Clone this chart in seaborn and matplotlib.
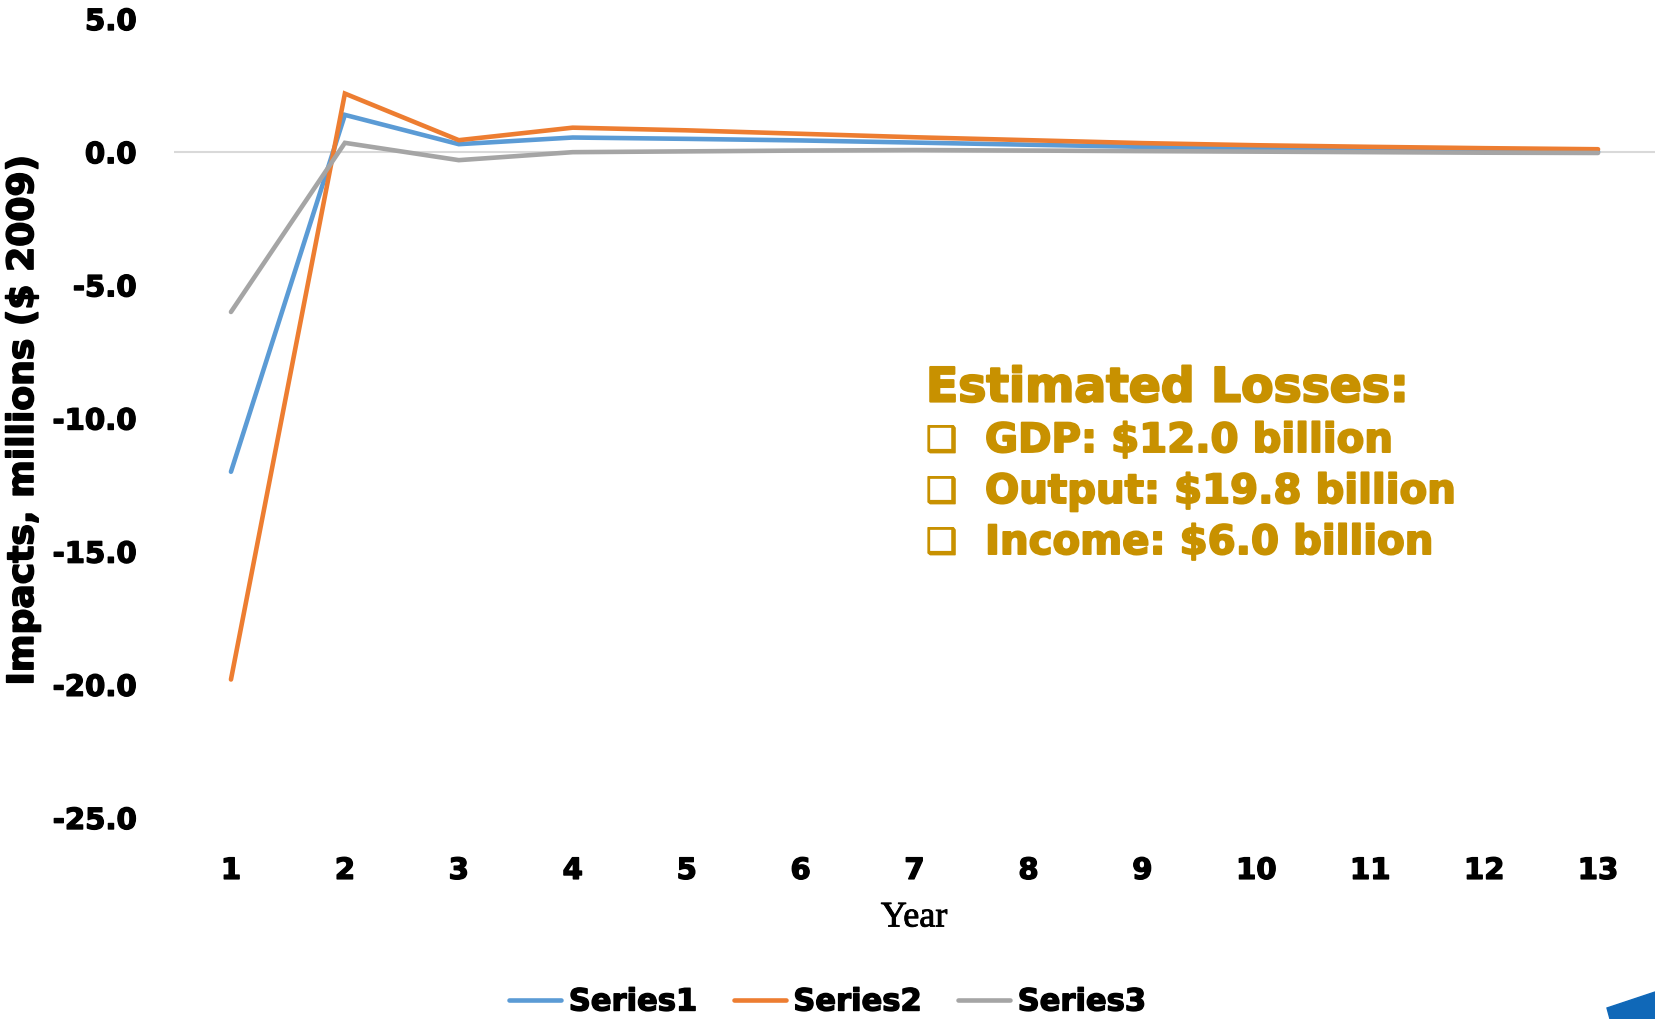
import numpy as np
import pandas as pd
import matplotlib
matplotlib.use("Agg")
import matplotlib.pyplot as plt
import matplotlib.patheffects as pe
import seaborn as sns
from matplotlib.patches import Polygon

years = list(range(1, 14))
series1 = [-12.0, 1.4, 0.3, 0.55, 0.5, 0.44, 0.36, 0.28, 0.2, 0.14, 0.09, 0.05, 0.02]
series2 = [-19.8, 2.2, 0.45, 0.92, 0.82, 0.69, 0.56, 0.45, 0.34, 0.26, 0.2, 0.15, 0.11]
series3 = [-6.0, 0.35, -0.3, 0.0, 0.03, 0.06, 0.08, 0.06, 0.04, 0.02, 0.0, -0.02, -0.03]
series_names = ["Series1", "Series2", "Series3"]
colors = ["#5B9BD5", "#ED7D31", "#A5A5A5"]
yticks = [5.0, 0.0, -5.0, -10.0, -15.0, -20.0, -25.0]
box_title = "Estimated Losses:"
box_items = ["GDP: $12.0 billion", "Output: $19.8 billion", "Income: $6.0 billion"]

df = pd.DataFrame({
    "Year": years * 3,
    "Value": series1 + series2 + series3,
    "Series": [s for s in series_names for _ in years],
})

sns.set_theme(style="white")
plt.rcParams["font.family"] = ["DejaVu Sans"]
plt.rcParams["text.color"] = "black"


def heavy(color, w=1.2):
    return [pe.withStroke(linewidth=w, foreground=color)]


fig = plt.figure(figsize=(16.55, 10.19), dpi=100)
ax = fig.add_axes([174/1655, 1-818/1019, 1-174/1655, (818-19)/1019])

ax.axhline(0, color="#D9D9D9", lw=1.5, zorder=1)
sns.lineplot(data=df, x="Year", y="Value", hue="Series", palette=colors,
             linewidth=3.3, ax=ax, legend=False, zorder=3,
             solid_capstyle="round", solid_joinstyle="miter")

ax.set_xlim(0.5, 13.5)
ax.set_ylim(-25, 5)
ax.set_xticks(years)
ax.set_xticklabels([str(y) for y in years])
ax.set_yticks(yticks)
ax.set_yticklabels([f"{v:.1f}" for v in yticks])
for s in ax.spines.values():
    s.set_visible(False)
ax.grid(False)
ax.tick_params(axis="x", length=0, pad=28, labelsize=21)
ax.tick_params(axis="y", length=0, pad=27, labelsize=21)
for lab in ax.get_xticklabels() + ax.get_yticklabels():
    lab.set_fontweight("bold")
    lab.set_color("black")
    lab.set_path_effects(heavy("black", 1.0))
ax.set_xlabel("")
ax.set_ylabel("")

fig.text(23/1655, 1-420/1019, "Impacts, millions ($ 2009)", rotation=90,
         ha="center", va="center", fontsize=26, fontweight="bold", color="black",
         path_effects=heavy("black", 1.2))
fig.text(914/1655, 1-918/1019, "Year", ha="center", va="center",
         fontsize=26, family="Liberation Serif", color="black",
         path_effects=heavy("black", 0.6))

gold = "#C89100"
fig.text(926/1655, 1-389/1019, box_title, ha="left", va="center",
         fontsize=34, fontweight="bold", color=gold, path_effects=heavy(gold, 1.6))
ys = [441, 492, 543]
for yy, item in zip(ys, box_items):
    fig.text(926/1655, 1-yy/1019, "\u2751", ha="left", va="center",
             fontsize=25, color=gold, path_effects=heavy(gold, 1.0))
    fig.text(985/1655, 1-yy/1019, item, ha="left", va="center",
             fontsize=29, fontweight="bold", color=gold, path_effects=heavy(gold, 1.4))

handles = [plt.Line2D([], [], color=c, lw=3.3, solid_capstyle="round") for c in colors]
leg = fig.legend(handles, series_names, loc="center", bbox_to_anchor=(0.5, 1-1002/1019),
                 ncol=3, frameon=False, handlelength=1.7, handletextpad=0.25,
                 columnspacing=1.2, prop={"weight": "bold", "size": 22})
for t in leg.get_texts():
    t.set_color("black")
    t.set_path_effects(heavy("black", 1.0))

tri = Polygon([[1607/1655, 1-1008/1019], [1.0, 1-992/1019], [1.0, 0.0], [1610/1655, 0.0]],
              closed=True, transform=fig.transFigure, color="#1068B8", zorder=5)
fig.patches.append(tri)

fig.savefig("out.png", dpi=100)
